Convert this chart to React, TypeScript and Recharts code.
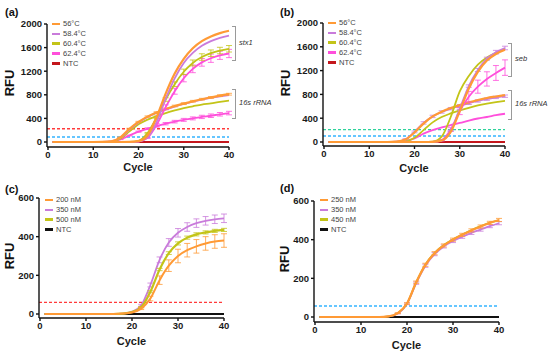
import React from "react";
import { LineChart, Line, XAxis, YAxis, ReferenceLine, ErrorBar, Legend } from "recharts";

const FONT = '"Liberation Sans", Arial, Helvetica, sans-serif';
const ORANGE = "#FF9A35";
const PURPLE = "#C97BDB";
const YELLOW = "#C3C418";
const PINK = "#FF4FDB";
const NTC_RED = "#C4161C";
const BLACK = "#111111";

// cycles sampled for every curve
const CYCLES = [1, 2, 4, 6, 8, 10, 12, 14, 16, 18, 20, 22, 24, 26, 28, 30, 32, 34, 36, 38, 40];

// (a) stx1 + 16s rRNA, annealing temperatures
const A_STX1_56 = [0, 0, 0, 0, 0, 0, 0, 0, 0, 2, 15, 110, 420, 820, 1160, 1410, 1590, 1710, 1790, 1845, 1885];
const A_STX1_58 = [0, 0, 0, 0, 0, 0, 0, 0, 0, 0, 8, 75, 340, 730, 1080, 1340, 1510, 1630, 1710, 1765, 1805];
const A_STX1_60 = [0, 0, 0, 0, 0, 0, 0, 0, 0, 2, 20, 150, 420, 720, 980, 1190, 1340, 1440, 1505, 1550, 1580];
const A_STX1_60_SD = [0, 0, 0, 0, 0, 0, 0, 0, 0, 0, 0, 10, 20, 30, 40, 45, 50, 55, 55, 55, 55];
const A_STX1_62 = [0, 0, 0, 0, 0, 0, 0, 0, 0, 0, 8, 70, 290, 590, 860, 1080, 1240, 1350, 1420, 1470, 1500];
const A_STX1_62_SD = [0, 0, 0, 0, 0, 0, 0, 0, 0, 0, 0, 10, 25, 40, 50, 60, 65, 65, 70, 70, 70];
const A_16S_56 = [0, 0, 0, 0, 0, 0, 2, 12, 80, 225, 340, 430, 500, 560, 610, 650, 690, 725, 755, 785, 810];
const A_16S_56_SD = [0, 0, 0, 0, 0, 0, 0, 0, 5, 8, 10, 12, 12, 14, 14, 15, 15, 15, 15, 15, 15];
const A_16S_58 = [0, 0, 0, 0, 0, 0, 2, 10, 70, 210, 330, 425, 495, 550, 600, 645, 685, 720, 750, 775, 795];
const A_16S_60 = [0, 0, 0, 0, 0, 0, 1, 8, 55, 180, 300, 380, 440, 490, 535, 575, 605, 635, 655, 680, 700];
const A_16S_62 = [0, 0, 0, 0, 0, 0, 0, 5, 45, 110, 175, 225, 270, 310, 345, 375, 400, 425, 445, 470, 490];
const A_16S_62_SD = [0, 0, 0, 0, 0, 0, 0, 0, 5, 8, 10, 15, 18, 20, 22, 25, 25, 28, 30, 30, 30];
const A_NTC = [0, 0, 0, 0, 0, 0, 0, 0, 0, 0, 0, 0, 0, 0, 0, 0, 0, 0, 0, 0, 0];
const A_THRESHOLDS = [225, 84];

// (b) seb + 16s rRNA
const B_SEB_56 = [0, 0, 0, 0, 0, 0, 0, 0, 0, 0, 0, 0, 3, 25, 170, 520, 900, 1180, 1370, 1480, 1550];
const B_SEB_58 = [0, 0, 0, 0, 0, 0, 0, 0, 0, 0, 0, 0, 3, 25, 190, 560, 940, 1210, 1400, 1510, 1580];
const B_SEB_58_SD = [0, 0, 0, 0, 0, 0, 0, 0, 0, 0, 0, 0, 0, 5, 10, 15, 20, 25, 25, 30, 30];
const B_SEB_60 = [0, 0, 0, 0, 0, 0, 0, 0, 0, 0, 0, 0, 5, 90, 420, 850, 1110, 1300, 1420, 1500, 1560];
const B_SEB_62 = [0, 0, 0, 0, 0, 0, 0, 0, 0, 0, 0, 0, 3, 30, 210, 520, 760, 930, 1060, 1160, 1250];
const B_SEB_62_SD = [0, 0, 0, 0, 0, 0, 0, 0, 0, 0, 0, 0, 0, 10, 30, 60, 90, 110, 120, 125, 130];
const B_16S_56 = [0, 0, 0, 0, 0, 0, 0, 0, 5, 40, 160, 310, 430, 510, 570, 620, 665, 705, 740, 765, 790];
const B_16S_58 = [0, 0, 0, 0, 0, 0, 0, 0, 5, 45, 170, 320, 430, 505, 560, 610, 650, 690, 720, 750, 770];
const B_16S_58_SD = [0, 0, 0, 0, 0, 0, 0, 0, 5, 10, 15, 20, 20, 20, 20, 20, 20, 20, 20, 20, 20];
const B_16S_60 = [0, 0, 0, 0, 0, 0, 0, 0, 0, 10, 70, 200, 330, 420, 480, 530, 575, 615, 645, 670, 690];
const B_16S_62 = [0, 0, 0, 0, 0, 0, 0, 0, 0, 15, 60, 140, 200, 245, 285, 320, 360, 395, 420, 450, 475];
const B_NTC = [0, 0, 0, 0, 0, 0, 0, 0, 0, 0, 0, 0, 0, 0, 0, 0, 0, 0, 0, 0, 0];
const B_THRESHOLDS = [208, 101];

// (c) primer concentrations
const C_200 = [0, 0, 0, 0, 0, 0, 0, 0, 0, 2, 8, 28, 80, 175, 250, 300, 330, 350, 365, 375, 380];
const C_200_SD = [0, 0, 0, 0, 0, 0, 0, 0, 0, 0, 0, 5, 12, 22, 30, 35, 35, 35, 35, 35, 35];
const C_350 = [0, 0, 0, 0, 0, 0, 0, 0, 0, 2, 12, 45, 150, 280, 370, 420, 450, 470, 482, 490, 495];
const C_350_SD = [0, 0, 0, 0, 0, 0, 0, 0, 0, 0, 0, 5, 10, 15, 20, 22, 22, 22, 22, 22, 22];
const C_500 = [0, 0, 0, 0, 0, 0, 0, 0, 0, 2, 10, 35, 115, 230, 315, 365, 395, 412, 422, 430, 435];
const C_500_SD = [0, 0, 0, 0, 0, 0, 0, 0, 0, 0, 0, 3, 5, 6, 7, 8, 8, 8, 8, 8, 8];
const C_NTC = [0, 0, 0, 0, 0, 0, 0, 0, 0, 0, 0, 0, 0, 0, 0, 0, 0, 0, 0, 0, 0];
const C_THRESHOLDS = [60];

// (d) probe concentrations
const D_250 = [0, 0, 0, 0, 0, 0, 0, 0, 3, 20, 70, 180, 270, 330, 370, 400, 425, 448, 468, 487, 502];
const D_250_SD = [0, 0, 0, 0, 0, 0, 0, 0, 0, 2, 4, 6, 8, 8, 8, 8, 8, 8, 8, 8, 8];
const D_350 = [0, 0, 0, 0, 0, 0, 0, 0, 3, 18, 68, 175, 265, 325, 365, 393, 415, 435, 452, 470, 485];
const D_350_SD = [0, 0, 0, 0, 0, 0, 0, 0, 0, 2, 4, 6, 8, 8, 8, 8, 8, 8, 8, 8, 8];
const D_450 = [0, 0, 0, 0, 0, 0, 0, 0, 3, 20, 70, 180, 272, 332, 372, 402, 427, 450, 470, 488, 500];
const D_NTC = [0, 0, 0, 0, 0, 0, 0, 0, 0, 0, 0, 0, 0, 0, 0, 0, 0, 0, 0, 0, 0];
const D_THRESHOLDS = [57];

const X_TICKS = [0, 10, 20, 30, 40];

type SeriesDef = {
  key: string;
  name: string | null;
  values: number[];
  sd?: number[];
  color: string;
  width?: number;
};

type PanelDef = {
  left: number;
  top: number;
  width: number;
  height: number;
  margin: { top: number; right: number; bottom: number; left: number };
  yWidth: number;
  yMax: number;
  yTicks: number[];
  yPadBottom: number;
  xHeight: number;
  series: SeriesDef[];
  thresholds: number[];
  thresholdColors: string[];
  legendPos: { left: number; top: number };
};

const buildRows = (series: SeriesDef[]) =>
  CYCLES.map((cycle, i) => {
    const row: Record<string, number> = { cycle };
    series.forEach((s) => {
      row[s.key] = s.values[i];
      if (s.sd) row[s.key + "_sd"] = s.sd[i];
    });
    return row;
  });

const renderLegend = (props: any) => {
  const items = [...(props.payload || [])]
    .filter((it: any) => it.type !== "none" && !String(it.value).startsWith("_"))
    .sort((a: any, b: any) => String(a.value).localeCompare(String(b.value)));
  return (
    <div style={{ fontFamily: FONT, fontSize: 7.5, color: "#444" }}>
      {items.map((it: any) => (
        <div key={it.value} style={{ display: "flex", alignItems: "center", height: 9.9 }}>
          <span style={{ display: "inline-block", width: 8, height: 2.5, background: it.color, marginRight: 3 }} />
          <span>{it.value}</span>
        </div>
      ))}
    </div>
  );
};

const axisStroke = { stroke: BLACK, strokeWidth: 1.4 };
const tickStyle = { fontSize: 9.5, fontWeight: 700, fill: "#1a1a1a", fontFamily: FONT };

const Panel = ({ p }: { p: PanelDef }) => {
  const data = buildRows(p.series);
  return (
    <div style={{ position: "absolute", left: p.left, top: p.top }}>
      <LineChart width={p.width} height={p.height} data={data} margin={p.margin}>
        <XAxis
          dataKey="cycle"
          type="number"
          domain={[0, 40]}
          ticks={X_TICKS}
          padding={{ left: 1, right: 0 }}
          height={p.xHeight}
          tickSize={3}
          tickMargin={1}
          axisLine={axisStroke}
          tickLine={axisStroke}
          tick={tickStyle}
          label={{
            value: "Cycle",
            position: "insideBottom",
            offset: 0,
            style: { fontSize: 11, fontWeight: 700, fill: "#1a1a1a", fontFamily: FONT },
          }}
        />
        <YAxis
          type="number"
          domain={[0, p.yMax]}
          ticks={p.yTicks}
          interval={0}
          width={p.yWidth}
          padding={{ top: 0, bottom: p.yPadBottom }}
          tickSize={3}
          tickMargin={2}
          axisLine={axisStroke}
          tickLine={axisStroke}
          tick={tickStyle}
        />
        {p.thresholds.map((t, i) => (
          <ReferenceLine
            key={"th" + i}
            y={t}
            stroke={p.thresholdColors[i]}
            strokeDasharray="3 2"
            strokeWidth={1.4}
          />
        ))}
        {p.series.map((s) => (
          <Line
            key={s.key}
            dataKey={s.key}
            name={s.name ?? "_" + s.key}
            legendType={s.name ? "line" : "none"}
            type="monotone"
            stroke={s.color}
            strokeWidth={s.width ?? 1.8}
            dot={false}
            isAnimationActive={false}
          >
            {s.sd && (
              <ErrorBar
                dataKey={s.key + "_sd"}
                direction="y"
                width={3}
                stroke={s.color}
                strokeWidth={0.8}
                isAnimationActive={false}
              />
            )}
          </Line>
        ))}
        <Legend
          layout="vertical"
          align="center"
          verticalAlign="middle"
          content={renderLegend}
          wrapperStyle={{ left: p.legendPos.left, top: p.legendPos.top, width: "auto" }}
        />
      </LineChart>
    </div>
  );
};

const PANEL_A: PanelDef = {
  left: 0,
  top: 0,
  width: 275,
  height: 176,
  margin: { top: 24, right: 46, bottom: 5, left: 11 },
  yWidth: 36,
  yMax: 2000,
  yTicks: [0, 400, 800, 1200, 1600, 2000],
  yPadBottom: 5,
  xHeight: 24,
  thresholds: A_THRESHOLDS,
  thresholdColors: ["#FF3B3B", "#35B4FF"],
  legendPos: { left: 52, top: 19 },
  series: [
    { key: "ntc", name: "NTC", values: A_NTC, color: NTC_RED, width: 2 },
    { key: "r62", name: null, values: A_16S_62, sd: A_16S_62_SD, color: PINK },
    { key: "r60", name: null, values: A_16S_60, color: YELLOW },
    { key: "r58", name: null, values: A_16S_58, color: PURPLE },
    { key: "r56", name: null, values: A_16S_56, sd: A_16S_56_SD, color: ORANGE, width: 2.2 },
    { key: "s62", name: "62.4°C", values: A_STX1_62, sd: A_STX1_62_SD, color: PINK },
    { key: "s60", name: "60.4°C", values: A_STX1_60, sd: A_STX1_60_SD, color: YELLOW },
    { key: "s58", name: "58.4°C", values: A_STX1_58, color: PURPLE },
    { key: "s56", name: "56°C", values: A_STX1_56, color: ORANGE, width: 2.2 },
  ],
};

const PANEL_B: PanelDef = {
  left: 276,
  top: 0,
  width: 274,
  height: 176,
  margin: { top: 23, right: 45, bottom: 4, left: 11 },
  yWidth: 36,
  yMax: 2000,
  yTicks: [0, 400, 800, 1200, 1600, 2000],
  yPadBottom: 4,
  xHeight: 26,
  thresholds: B_THRESHOLDS,
  thresholdColors: ["#2FD39B", "#35B4FF"],
  legendPos: { left: 52, top: 18 },
  series: [
    { key: "ntc", name: "NTC", values: B_NTC, color: NTC_RED, width: 2 },
    { key: "r62", name: null, values: B_16S_62, color: PINK },
    { key: "r60", name: null, values: B_16S_60, color: YELLOW },
    { key: "r58", name: null, values: B_16S_58, sd: B_16S_58_SD, color: PURPLE },
    { key: "r56", name: null, values: B_16S_56, color: ORANGE, width: 2.2 },
    { key: "s62", name: "62.4°C", values: B_SEB_62, sd: B_SEB_62_SD, color: PINK },
    { key: "s60", name: "60.4°C", values: B_SEB_60, color: YELLOW },
    { key: "s58", name: "58.4°C", values: B_SEB_58, sd: B_SEB_58_SD, color: PURPLE },
    { key: "s56", name: "56°C", values: B_SEB_56, color: ORANGE, width: 2.2 },
  ],
};

const PANEL_C: PanelDef = {
  left: 0,
  top: 176,
  width: 275,
  height: 177,
  margin: { top: 22, right: 51, bottom: 8, left: 11 },
  yWidth: 28,
  yMax: 600,
  yTicks: [0, 200, 400, 600],
  yPadBottom: 4,
  xHeight: 27,
  thresholds: C_THRESHOLDS,
  thresholdColors: ["#FF3B3B"],
  legendPos: { left: 45, top: 19 },
  series: [
    { key: "ntc", name: "NTC", values: C_NTC, color: BLACK, width: 2 },
    { key: "c350", name: "350 nM", values: C_350, sd: C_350_SD, color: PURPLE },
    { key: "c500", name: "500 nM", values: C_500, sd: C_500_SD, color: YELLOW, width: 2.2 },
    { key: "c200", name: "200 nM", values: C_200, sd: C_200_SD, color: ORANGE, width: 2 },
  ],
};

const PANEL_D: PanelDef = {
  left: 275,
  top: 176,
  width: 275,
  height: 177,
  margin: { top: 25, right: 51, bottom: 4, left: 11 },
  yWidth: 28,
  yMax: 600,
  yTicks: [0, 200, 400, 600],
  yPadBottom: 5,
  xHeight: 27,
  thresholds: D_THRESHOLDS,
  thresholdColors: ["#35B4FF"],
  legendPos: { left: 45, top: 19 },
  series: [
    { key: "ntc", name: "NTC", values: D_NTC, color: BLACK, width: 2.2 },
    { key: "d350", name: "350 nM", values: D_350, sd: D_350_SD, color: PURPLE },
    { key: "d450", name: "450 nM", values: D_450, color: YELLOW },
    { key: "d250", name: "250 nM", values: D_250, sd: D_250_SD, color: ORANGE, width: 2.2 },
  ],
};

const PanelLetter = ({ text, x, y }: { text: string; x: number; y: number }) => (
  <div style={{ position: "absolute", left: x, top: y, fontFamily: FONT, fontSize: 11, fontWeight: 700, color: "#111", lineHeight: "13px" }}>
    {text}
  </div>
);

const RfuLabel = ({ x, y }: { x: number; y: number }) => (
  <div
    style={{
      position: "absolute",
      left: x,
      top: y,
      transform: "translate(-50%, -50%) rotate(-90deg)",
      fontFamily: FONT,
      fontSize: 13,
      fontWeight: 700,
      color: "#111",
      whiteSpace: "nowrap",
      lineHeight: "14px",
    }}
  >
    RFU
  </div>
);

const Bracket = ({ x, y1, y2, label }: { x: number; y1: number; y2: number; label: string }) => (
  <>
    <div
      style={{
        position: "absolute",
        left: x,
        top: y1,
        width: 3,
        height: y2 - y1,
        borderTop: "1px solid #9a9a9a",
        borderRight: "1px solid #9a9a9a",
        borderBottom: "1px solid #9a9a9a",
      }}
    />
    <div
      style={{
        position: "absolute",
        left: x + 7,
        top: (y1 + y2) / 2 - 5,
        fontFamily: FONT,
        fontSize: 7.5,
        fontStyle: "italic",
        color: "#333",
        lineHeight: "10px",
        whiteSpace: "nowrap",
      }}
    >
      {label}
    </div>
  </>
);

export default function App() {
  return (
    <div style={{ position: "absolute", left: 0, top: 0, width: 550, height: 353, background: "#fff", overflow: "hidden" }}>
      <Panel p={PANEL_A} />
      <Panel p={PANEL_B} />
      <Panel p={PANEL_C} />
      <Panel p={PANEL_D} />
      <PanelLetter text="(a)" x={5} y={6} />
      <PanelLetter text="(b)" x={280} y={6} />
      <PanelLetter text="(c)" x={5} y={183} />
      <PanelLetter text="(d)" x={280} y={182} />
      <RfuLabel x={10} y={83} />
      <RfuLabel x={286} y={83} />
      <RfuLabel x={10} y={256} />
      <RfuLabel x={285} y={259} />
      <Bracket x={232} y1={26} y2={59} label="stx1" />
      <Bracket x={232} y1={89} y2={117} label="16s rRNA" />
      <Bracket x={508} y1={43} y2={75} label="seb" />
      <Bracket x={508} y1={90} y2={118} label="16s rRNA" />
    </div>
  );
}
